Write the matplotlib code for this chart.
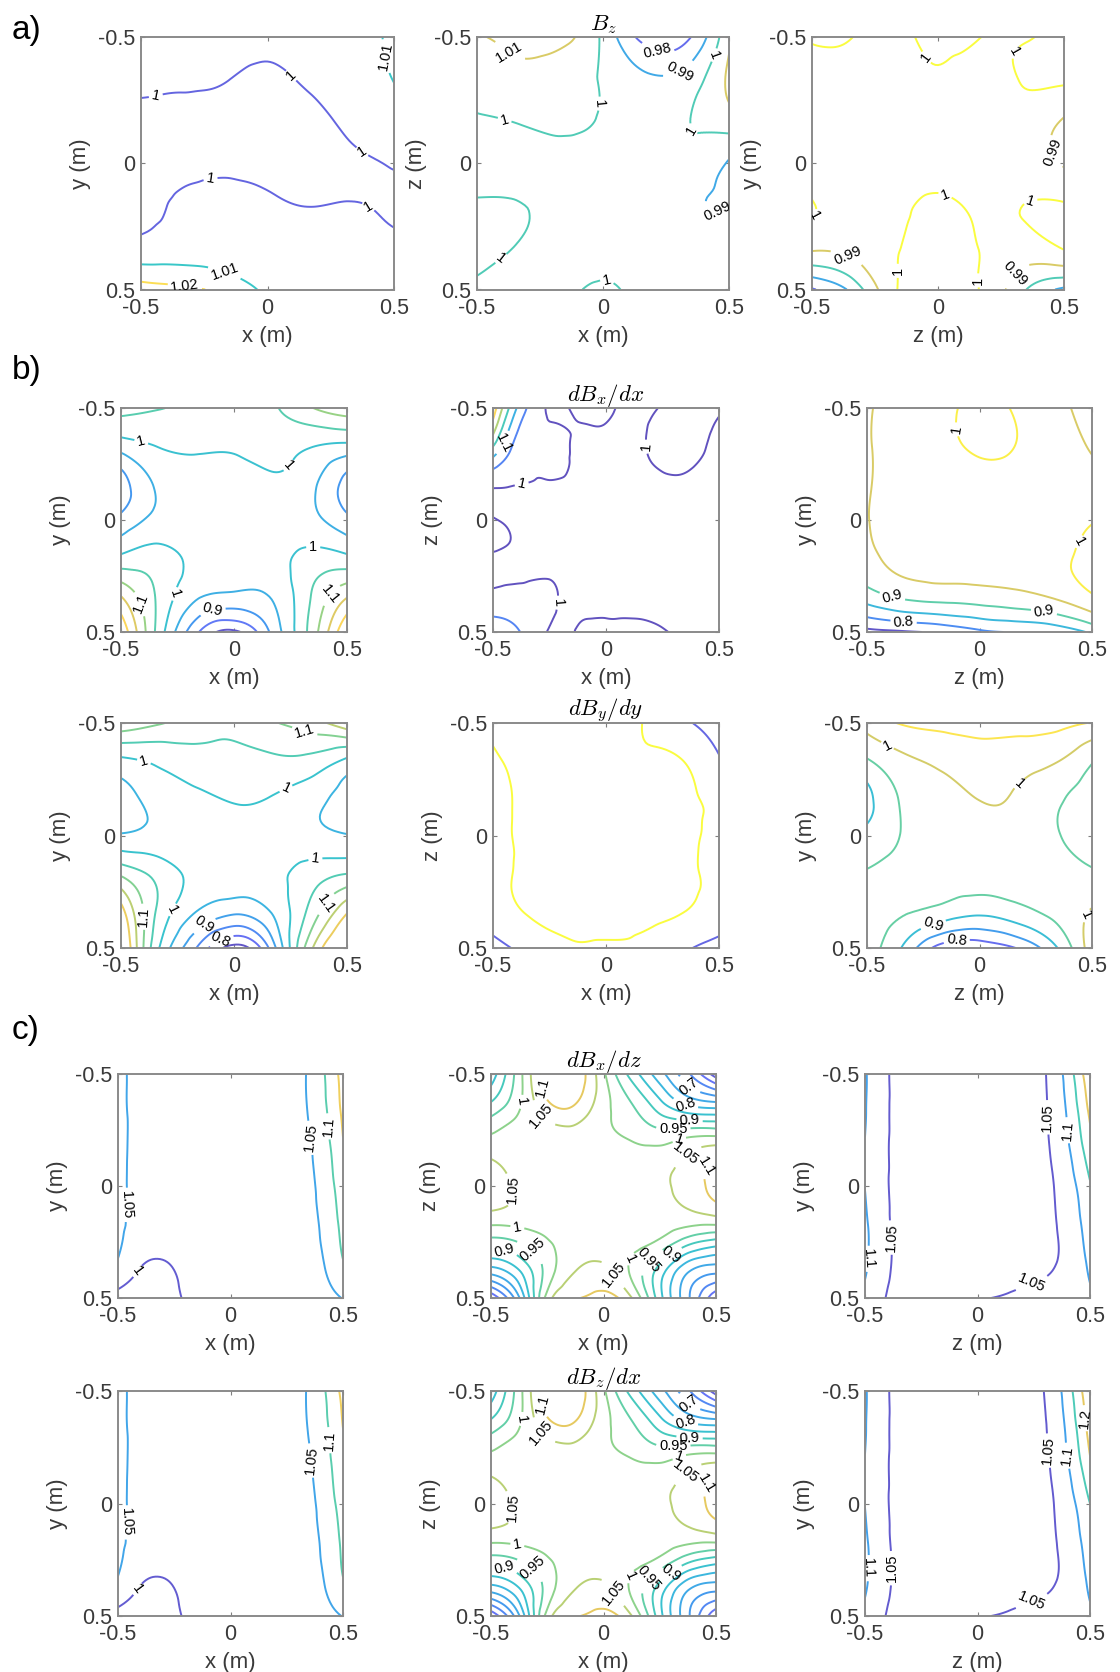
import numpy as np
import matplotlib
matplotlib.use("Agg")
import matplotlib.pyplot as plt
import matplotlib.tri as mtri
from matplotlib.colors import LinearSegmentedColormap, Normalize

plt.rcParams['font.family'] = ['Liberation Sans', 'DejaVu Sans']
plt.rcParams['mathtext.fontset'] = 'cm'
plt.rcParams['axes.unicode_minus'] = False

# ------------------------------------------------------------------ data
tick_values = [-0.5, 0, 0.5]
tick_labels = ['-0.5', '0', '0.5']

# a) B_z  (rows: vertical axis from -0.5 (top) to 0.5 (bottom); cols: horizontal axis -0.5..0.5)
Bz_xy = [
    [1.004, 1.004, 1.004, 1.003, 1.003, 1.004, 1.013],
    [1.0015, 1.001, 1.0003, 0.9985, 1.001, 1.003, 1.0105],
    [0.998, 0.998, 0.9975, 0.997, 0.998, 1.0015, 1.004],
    [0.997, 0.998, 0.9985, 0.998, 0.9975, 0.999, 1.0004],
    [0.998, 1.001, 1.002, 1.001, 0.9999, 1.0002, 0.9988],
    [1.003, 1.0045, 1.004, 1.003, 1.0025, 1.002, 1.0015],
    [1.025, 1.022, 1.017, 1.008, 1.005, 1.004, 1.003],
]
Bz_xz = [
    [1.009, 1.013, 1.013, 0.998, 0.976, 0.978, 1.008],
    [1.003, 1.007, 1.005, 0.999, 0.992, 0.994, 1.012],
    [0.999, 1.0005, 1.002, 0.999, 0.996, 0.9995, 1.005],
    [0.996, 0.997, 0.997, 0.996, 0.996, 0.997, 0.989],
    [1.001, 1.0003, 0.998, 0.997, 0.997, 0.992, 0.989],
    [1.002, 0.9995, 0.997, 0.998, 0.997, 0.996, 0.992],
    [0.999, 0.997, 0.998, 1.001, 0.997, 0.995, 0.993],
]
Bz_zy = [
    [1.0006, 0.9999, 0.998, 1.002, 1.0001, 0.999, 1.003],
    [0.998, 0.997, 0.997, 0.999, 0.997, 1.0005, 1.0015],
    [0.997, 0.996, 0.996, 0.996, 0.996, 0.996, 0.989],
    [0.997, 0.996, 0.996, 0.996, 0.996, 0.996, 0.989],
    [1.0003, 0.998, 0.998, 1.0015, 0.9985, 0.99995, 1.001],
    [0.992, 0.994, 0.9995, 1.002, 0.9998, 0.996, 1.001],
    [0.959, 0.974, 0.9995, 1.002, 0.9998, 0.982, 0.968],
]

# b) dBx/dx and dBy/dy
dBx_dx_xy = [
    [1.065, 1.052, 1.035, 1.02, 1.04, 1.095, 1.13],
    [0.975, 1.003, 1.01, 1.008, 1.02, 1.005, 0.99],
    [0.875, 0.96, 0.975, 0.975, 0.99, 0.965, 0.88],
    [0.915, 0.965, 0.975, 0.975, 0.975, 0.965, 0.915],
    [1.01, 1.02, 0.985, 0.975, 0.98, 1.015, 1.01],
    [1.145, 1.04, 0.96, 0.943, 0.955, 1.045, 1.14],
    [1.24, 1.03, 0.86, 0.79, 0.91, 1.06, 1.25],
]
dBx_dx_xz = [
    [1.28, 1.075, 0.997, 1.004, 1.003, 0.997, 1.001, 1.004, 1.001],
    [1.195, 1.03, 1.003, 0.998, 0.998, 0.997, 1.005, 1.004, 0.998],
    [1.07, 1.01, 1.006, 0.996, 0.996, 0.997, 1.002, 1.001, 0.997],
    [0.996, 0.998, 0.996, 0.995, 0.995, 0.995, 0.996, 0.996, 0.996],
    [1.002, 0.996, 0.995, 0.995, 0.995, 0.995, 0.995, 0.995, 0.995],
    [1.003, 0.996, 0.995, 0.995, 0.995, 0.995, 0.995, 0.995, 0.995],
    [0.99, 0.996, 0.999, 0.996, 0.995, 0.995, 0.995, 0.995, 0.995],
    [1.025, 1.02, 1.004, 0.996, 0.997, 0.997, 0.996, 0.995, 0.995],
    [1.08, 1.048, 0.997, 1.002, 1.004, 1.004, 1.001, 0.997, 0.996],
]
dBx_dx_zy = [
    [0.945, 0.97, 0.99, 1.008, 0.995, 0.965, 0.93],
    [0.945, 0.975, 0.99, 1.006, 0.999, 0.975, 0.945],
    [0.945, 0.975, 0.985, 0.99, 0.99, 0.985, 0.97],
    [0.948, 0.975, 0.985, 0.99, 0.99, 0.99, 0.998],
    [0.94, 0.965, 0.975, 0.98, 0.98, 0.99, 1.012],
    [0.88, 0.915, 0.925, 0.93, 0.94, 0.96, 0.998],
    [0.735, 0.745, 0.76, 0.79, 0.802, 0.815, 0.86],
]
dBy_dy_xy = [
    [1.14, 1.105, 1.075, 1.065, 1.095, 1.125, 1.19],
    [0.99, 1.01, 1.03, 1.035, 1.04, 1.035, 0.99],
    [0.925, 0.97, 0.99, 1.005, 0.998, 0.97, 0.93],
    [0.955, 0.965, 0.975, 0.98, 0.98, 0.965, 0.952],
    [1.087, 1.03, 0.985, 0.975, 0.985, 1.02, 1.047],
    [1.22, 1.04, 0.952, 0.915, 0.955, 1.06, 1.19],
    [1.28, 1.003, 0.85, 0.73, 0.87, 1.13, 1.3],
]
dBy_dy_xz = [
    [1.003, 1.005, 1.005, 1.004, 0.999, 0.96, 0.935],
    [0.997, 1.006, 1.007, 1.006, 1.003, 1.001, 0.955],
    [0.99, 1.006, 1.008, 1.008, 1.008, 1.006, 0.99],
    [0.99, 1.006, 1.008, 1.008, 1.008, 1.006, 0.99],
    [0.99, 1.006, 1.008, 1.008, 1.008, 1.006, 0.99],
    [0.98, 1.004, 1.008, 1.008, 1.007, 1.002, 0.98],
    [0.93, 0.97, 0.996, 0.996, 0.992, 0.96, 0.93],
]
dBy_dy_zy = [
    [1.02, 1.055, 1.065, 1.07, 1.07, 1.065, 1.048],
    [0.945, 0.99, 1.01, 1.025, 1.02, 1.005, 0.955],
    [0.885, 0.96, 0.99, 1.001, 0.995, 0.96, 0.93],
    [0.915, 0.955, 0.985, 0.99, 0.985, 0.955, 0.935],
    [0.953, 0.965, 0.975, 0.975, 0.975, 0.97, 0.955],
    [0.965, 0.955, 0.935, 0.915, 0.935, 0.965, 1.003],
    [0.975, 0.89, 0.775, 0.765, 0.802, 0.89, 1.03],
]

# c) dBx/dz and dBz/dx
dBx_dz_xy = [
    [1.06, 1.03, 1.025, 1.025, 1.03, 1.049, 1.17],
    [1.06, 1.03, 1.025, 1.025, 1.03, 1.047, 1.16],
    [1.06, 1.03, 1.025, 1.025, 1.03, 1.04, 1.145],
    [1.06, 1.03, 1.025, 1.025, 1.028, 1.035, 1.13],
    [1.058, 1.03, 1.025, 1.025, 1.025, 1.03, 1.115],
    [1.048, 0.998, 1.02, 1.025, 1.025, 1.025, 1.099],
    [0.982, 0.97, 1.013, 1.02, 1.022, 1.028, 1.052],
]
dBx_dz_xz = [
    [0.82, 0.98, 1.13, 1.14, 1.01, 0.88, 0.77, 0.66, 0.52],
    [0.9, 0.99, 1.095, 1.105, 1.02, 0.948, 0.86, 0.78, 0.75],
    [0.99, 1.02, 1.035, 1.04, 1.01, 0.985, 0.955, 0.96, 0.96],
    [1.048, 1.03, 1.025, 1.025, 1.025, 1.02, 1.025, 1.06, 1.098],
    [1.09, 1.04, 1.025, 1.02, 1.02, 1.025, 1.04, 1.07, 1.12],
    [1.04, 1.03, 1.02, 1.02, 1.02, 1.025, 1.03, 1.04, 1.06],
    [0.93, 0.952, 0.995, 1.02, 1.03, 1.02, 0.99, 0.92, 0.88],
    [0.78, 0.85, 0.97, 1.048, 1.06, 0.99, 0.88, 0.76, 0.72],
    [0.56, 0.745, 1.02, 1.098, 1.115, 1.052, 0.87, 0.71, 0.56],
]
dBx_dz_zy = [
    [1.105, 1.035, 1.033, 1.032, 1.03, 1.065, 1.24],
    [1.103, 1.035, 1.033, 1.032, 1.03, 1.06, 1.21],
    [1.099, 1.035, 1.033, 1.032, 1.03, 1.055, 1.18],
    [1.099, 1.035, 1.033, 1.032, 1.032, 1.048, 1.145],
    [1.108, 1.035, 1.033, 1.032, 1.033, 1.045, 1.125],
    [1.108, 1.037, 1.035, 1.035, 1.035, 1.045, 1.11],
    [1.09, 1.03, 1.035, 1.049, 1.055, 1.075, 1.095],
]
dBz_dx_xy = [
    [1.06, 1.03, 1.025, 1.025, 1.03, 1.049, 1.165],
    [1.06, 1.03, 1.025, 1.025, 1.03, 1.047, 1.15],
    [1.06, 1.03, 1.025, 1.025, 1.03, 1.04, 1.14],
    [1.06, 1.03, 1.025, 1.025, 1.028, 1.035, 1.125],
    [1.058, 1.03, 1.025, 1.025, 1.025, 1.03, 1.11],
    [1.048, 0.998, 1.02, 1.025, 1.025, 1.025, 1.099],
    [0.982, 0.97, 1.013, 1.02, 1.022, 1.028, 1.052],
]
dBz_dx_xz = [row[:] for row in dBx_dz_xz]
dBz_dx_zy = [
    [1.105, 1.035, 1.033, 1.032, 1.03, 1.07, 1.245],
    [1.103, 1.035, 1.033, 1.032, 1.03, 1.062, 1.22],
    [1.099, 1.035, 1.033, 1.032, 1.03, 1.055, 1.19],
    [1.099, 1.035, 1.033, 1.032, 1.032, 1.048, 1.15],
    [1.108, 1.035, 1.033, 1.032, 1.033, 1.045, 1.125],
    [1.108, 1.037, 1.035, 1.035, 1.035, 1.045, 1.11],
    [1.09, 1.03, 1.035, 1.049, 1.055, 1.075, 1.095],
]

lev_a1 = [0.99, 1.0, 1.01, 1.02]
lev_a2 = [0.98, 0.99, 1.0, 1.01]
lev_a3 = [0.96, 0.97, 0.98, 0.99, 1.0]
lev_b_full = [0.75, 0.8, 0.85, 0.9, 0.95, 1.0, 1.05, 1.1, 1.15, 1.2]
lev_b_xz = [1.0, 1.05, 1.1, 1.15, 1.2, 1.25]
lev_b_zy = [0.75, 0.8, 0.85, 0.9, 0.95, 1.0, 1.05]
lev_b2_xz = [0.95, 1.0]
lev_c_xy = [1.0, 1.05, 1.1, 1.15]
lev_c_xz = [0.55, 0.6, 0.65, 0.7, 0.75, 0.8, 0.85, 0.9, 0.95, 1.0, 1.05, 1.1]
lev_c_zy = [1.05, 1.1, 1.15, 1.2]

# ------------------------------------------------------------------ style
W, H = 1120, 1672
PARULA = [(0.00, (0.243, 0.150, 0.660)),
          (0.13, (0.270, 0.330, 0.960)),
          (0.25, (0.110, 0.500, 0.930)),
          (0.38, (0.070, 0.640, 0.860)),
          (0.50, (0.050, 0.730, 0.740)),
          (0.60, (0.250, 0.770, 0.580)),
          (0.70, (0.560, 0.790, 0.380)),
          (0.80, (0.880, 0.740, 0.240)),
          (0.90, (0.990, 0.810, 0.210)),
          (1.00, (0.977, 0.984, 0.081))]
cmap = LinearSegmentedColormap.from_list(
    'parula_like', [(p, tuple(0.82 * c + 0.18 for c in rgb)) for p, rgb in PARULA])


def rect(x0, x1, y0, y1):
    return [x0 / W, 1 - y1 / H, (x1 - x0) / W, (y1 - y0) / H]


def fmt(v):
    return ('%.3f' % v).rstrip('0').rstrip('.')


def grid_tri(nr, nc):
    u = np.linspace(-0.5, 0.5, nc)
    v = np.linspace(-0.5, 0.5, nr)
    U, V = np.meshgrid(u, v)
    tris = []
    for i in range(nr - 1):
        for j in range(nc - 1):
            a = i * nc + j
            b, c = a + 1, a + nc
            d = c + 1
            tris.append([a, b, d])
            tris.append([a, d, c])
    return mtri.Triangulation(U.ravel(), V.ravel(), np.array(tris))


def draw(ax, Z, levels, vmin, vmax, labels, lab_levels, xlabel, ylabel, title=None):
    Z = np.asarray(Z, dtype=float)
    tri = grid_tri(*Z.shape)
    z = Z.ravel()
    interp = mtri.CubicTriInterpolator(tri, z, kind='min_E')
    tri_r, z_r = mtri.UniformTriRefiner(tri).refine_field(z, triinterpolator=interp, subdiv=4)
    norm = Normalize(vmin, vmax)
    plain = [l for l in levels if not any(abs(l - q) < 1e-6 for q in lab_levels)]
    labeled = [l for l in levels if any(abs(l - q) < 1e-6 for q in lab_levels)]
    if plain:
        ax.tricontour(tri_r, z_r, levels=plain, cmap=cmap, norm=norm, linewidths=1.4)
    if labeled:
        cs = ax.tricontour(tri_r, z_r, levels=labeled, cmap=cmap, norm=norm, linewidths=1.4)
        if labels:
            ax.clabel(cs, inline=True, fontsize=10.5, colors='k', fmt=fmt,
                      manual=labels, inline_spacing=3)
    ax.set_xlim(-0.5, 0.5)
    ax.set_ylim(0.5, -0.5)
    ax.set_xticks(tick_values)
    ax.set_yticks(tick_values)
    ax.set_xticklabels(tick_labels)
    ax.set_yticklabels(tick_labels)
    ax.tick_params(direction='in', length=3, width=0.8, color='#7f7f7f',
                   top=True, right=True, labelsize=15.5, labelcolor='#3a3a3a')
    ax.tick_params(axis='x', pad=6)
    ax.tick_params(axis='y', pad=4)
    for s in ax.spines.values():
        s.set_color('#8a8a8a')
        s.set_linewidth(1.4)
    ax.set_xlabel(xlabel, fontsize=16, color='#3a3a3a', labelpad=5)
    ax.set_ylabel(ylabel, fontsize=16, color='#3a3a3a', labelpad=5)
    if title:
        ax.set_title(title, fontsize=16.5, pad=5)


fig = plt.figure(figsize=(W / 100, H / 100), dpi=100)

cols_a = [(141, 394), (477, 729), (812, 1064)]
cols_b = [(121, 347), (493, 719), (867, 1092)]
cols_c = [(118, 343), (491, 716), (865, 1090)]
rows = {'a': (37, 289.5), 'b1': (408, 632), 'b2': (723, 948),
        'c1': (1074, 1298), 'c2': (1391, 1616)}

lab_c_xz = [(-0.27, -0.44), (-0.27, -0.32), (-0.39, -0.38), (0.37, -0.436), (0.37, -0.384),
            (0.384, -0.317), (0.31, -0.265), (0.34, -0.198), (0.362, -0.147), (0.44, -0.1),
            (-0.416, 0.018), (-0.38, 0.165), (-0.32, 0.29), (-0.44, 0.29), (0.03, 0.405),
            (0.13, 0.33), (0.2, 0.33), (0.3, 0.31)]

panels = [
    ('a', 0, Bz_xy, lev_a1, 0.998, 1.022,
     [(-0.44, -0.26), (0.115, -0.37), (0.37, -0.04), (-0.22, 0.1), (0.39, 0.186),
      (-0.176, 0.45), (-0.326, 0.484), (0.445, -0.42)], lev_a1, 'x (m)', 'y (m)', None),
    ('a', 1, Bz_xz, lev_a2, 0.975, 1.02,
     [(-0.389, -0.415), (-0.025, -0.237), (-0.389, -0.177), (-0.409, 0.372), (0.015, 0.47),
      (0.22, -0.46), (0.3, -0.37), (0.464, -0.42), (0.352, -0.131), (0.471, 0.147)],
     lev_a2, 'x (m)', 'z (m)', r'$B_z$'),
    ('a', 2, Bz_zy, lev_a3, 0.955, 1.0,
     [(-0.025, -0.435), (0.306, -0.44), (0.471, -0.05), (0.021, 0.147), (0.371, 0.16),
      (-0.481, 0.213), (-0.362, 0.372), (-0.138, 0.425), (0.16, 0.464), (0.311, 0.444)],
     [0.99, 1.0], 'z (m)', 'y (m)', None),
    ('b1', 0, dBx_dx_xy, lev_b_full, 0.78, 1.25,
     [(-0.408, -0.36), (0.248, -0.238), (0.351, 0.101), (-0.246, 0.335), (-0.092, 0.417),
      (-0.409, 0.372), (0.4, 0.31)], [0.9, 1.0, 1.1], 'x (m)', 'y (m)', None),
    ('b1', 1, dBx_dx_xz, lev_b_xz, 0.995, 1.28,
     [(-0.41, -0.327), (-0.366, -0.125), (0.173, -0.327), (-0.218, 0.369)],
     [1.0, 1.1], 'x (m)', 'z (m)', r'$dB_x/dx$'),
    ('b1', 2, dBx_dx_zy, lev_b_zy, 0.74, 1.01,
     [(-0.116, -0.402), (0.417, 0.082), (-0.39, 0.35), (0.284, 0.424), (-0.339, 0.473)],
     [0.8, 0.9, 1.0], 'z (m)', 'y (m)', None),
    ('b2', 0, dBy_dy_xy, lev_b_full, 0.73, 1.3,
     [(0.3, -0.427), (-0.408, -0.294), (0.24, -0.187), (0.358, 0.087), (-0.254, 0.339),
      (-0.401, 0.361), (-0.128, 0.405), (-0.054, 0.472), (0.403, 0.301)],
     [0.8, 0.9, 1.0, 1.1], 'x (m)', 'y (m)', None),
    ('b2', 1, dBy_dy_xz, lev_b2_xz, 0.945, 1.0, [], [], 'x (m)', 'z (m)', r'$dB_y/dy$'),
    ('b2', 2, dBy_dy_zy, lev_b_zy, 0.765, 1.07,
     [(-0.412, -0.395), (0.195, -0.21), (-0.205, 0.398), (-0.101, 0.472), (0.439, 0.339)],
     [0.8, 0.9, 1.0], 'z (m)', 'y (m)', None),
    ('c1', 0, dBx_dz_xy, lev_c_xy, 0.99, 1.18,
     [(-0.454, 0.085), (-0.41, 0.383), (0.42, -0.265), (0.339, -0.213)],
     [1.0, 1.05, 1.1], 'x (m)', 'y (m)', None),
    ('c1', 1, dBx_dz_xz, lev_c_xz, 0.5, 1.25, lab_c_xz,
     [0.7, 0.8, 0.9, 0.95, 1.0, 1.05, 1.1], 'x (m)', 'z (m)', r'$dB_x/dz$'),
    ('c1', 2, dBx_dz_zy, lev_c_zy, 1.04, 1.24,
     [(0.285, -0.306), (0.381, -0.247), (-0.47, 0.326), (-0.381, 0.23), (0.248, 0.45)],
     [1.05, 1.1], 'z (m)', 'y (m)', None),
    ('c2', 0, dBz_dx_xy, lev_c_xy, 0.99, 1.18,
     [(-0.454, 0.085), (-0.41, 0.383), (0.42, -0.28), (0.35, -0.19)],
     [1.0, 1.05, 1.1], 'x (m)', 'y (m)', None),
    ('c2', 1, dBz_dx_xz, lev_c_xz, 0.5, 1.25, lab_c_xz,
     [0.7, 0.8, 0.9, 0.95, 1.0, 1.05, 1.1], 'x (m)', 'z (m)', r'$dB_z/dx$'),
    ('c2', 2, dBz_dx_zy, lev_c_zy, 1.04, 1.24,
     [(0.29, -0.233), (0.38, -0.21), (0.458, -0.377), (-0.495, 0.287), (-0.396, 0.287),
      (0.248, 0.45)], [1.05, 1.1, 1.2], 'z (m)', 'y (m)', None),
]

for row, col, Z, lev, vmin, vmax, labs, lablev, xl, yl, tt in panels:
    cols = cols_a if row == 'a' else (cols_b if row.startswith('b') else cols_c)
    x0, x1 = cols[col]
    y0, y1 = rows[row]
    ax = fig.add_axes(rect(x0, x1, y0, y1))
    draw(ax, Z, lev, vmin, vmax, labs, lablev, xl, yl, tt)

for txt, y in [('a)', 30), ('b)', 370), ('c)', 1030)]:
    fig.text(12 / W, 1 - y / H, txt, fontsize=24, ha='left', va='center')

fig.savefig('out.png', dpi=100)
